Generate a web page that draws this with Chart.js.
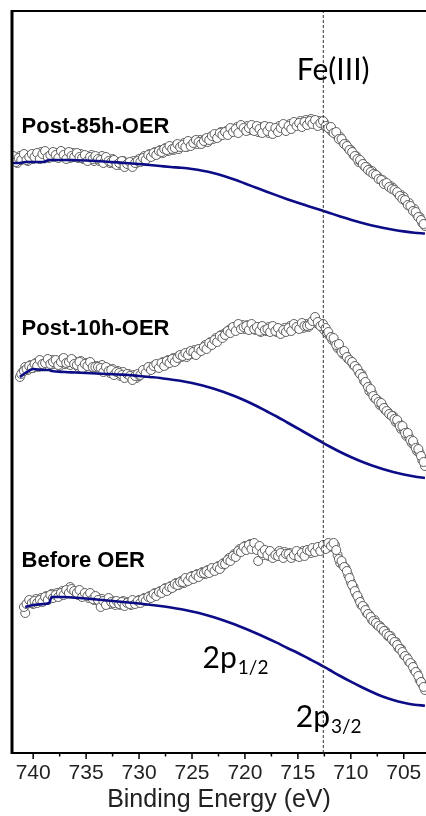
<!DOCTYPE html>
<html>
<head>
<meta charset="utf-8">
<script src="https://cdn.jsdelivr.net/npm/chart.js@4.4.1/dist/chart.umd.min.js"></script>
<style>
  html, body { margin: 0; padding: 0; background: #fff; overflow: hidden; }
  #wrap { width: 426px; height: 816px; position: relative; }
  canvas { display: block; }
</style>
</head>
<body>
<div id="wrap"><canvas id="xps"></canvas></div>
<script>
// binding energy of the measured points (eV), two interleaved sweeps
const energy = [
  742.00, 741.75, 741.50, 741.25, 741.00, 740.75, 740.50, 740.25,
  740.00, 739.75, 739.50, 739.25, 739.00, 738.75, 738.50, 738.25,
  738.00, 737.75, 737.50, 737.25, 737.00, 736.75, 736.50, 736.25,
  736.00, 735.75, 735.50, 735.25, 735.00, 734.75, 734.50, 734.25,
  734.00, 733.75, 733.50, 733.25, 733.00, 732.75, 732.50, 732.25,
  732.00, 731.75, 731.50, 731.25, 731.00, 730.75, 730.50, 730.25,
  730.00, 729.75, 729.50, 729.25, 729.00, 728.75, 728.50, 728.25,
  728.00, 727.75, 727.50, 727.25, 727.00, 726.75, 726.50, 726.25,
  726.00, 725.75, 725.50, 725.25, 725.00, 724.75, 724.50, 724.25,
  724.00, 723.75, 723.50, 723.25, 723.00, 722.75, 722.50, 722.25,
  722.00, 721.75, 721.50, 721.25, 721.00, 720.75, 720.50, 720.25,
  720.00, 719.75, 719.50, 719.25, 719.00, 718.75, 718.50, 718.25,
  718.00, 717.75, 717.50, 717.25, 717.00, 716.75, 716.50, 716.25,
  716.00, 715.75, 715.50, 715.25, 715.00, 714.75, 714.50, 714.25,
  714.00, 713.75, 713.50, 713.25, 713.00, 712.75, 712.50, 712.25,
  712.00, 711.75, 711.50, 711.25, 711.00, 710.75, 710.50, 710.25,
  710.00, 709.75, 709.50, 709.25, 709.00, 708.75, 708.50, 708.25,
  708.00, 707.75, 707.50, 707.25, 707.00, 706.75, 706.50, 706.25,
  706.00, 705.75, 705.50, 705.25, 705.00, 704.75, 704.50, 704.25,
  704.00, 703.75, 703.50, 703.25, 703.00
];
const energyB = [
  741.875, 741.625, 741.375, 741.125, 740.875, 740.625, 740.375, 740.125,
  739.875, 739.625, 739.375, 739.125, 738.875, 738.625, 738.375, 738.125,
  737.875, 737.625, 737.375, 737.125, 736.875, 736.625, 736.375, 736.125,
  735.875, 735.625, 735.375, 735.125, 734.875, 734.625, 734.375, 734.125,
  733.875, 733.625, 733.375, 733.125, 732.875, 732.625, 732.375, 732.125,
  731.875, 731.625, 731.375, 731.125, 730.875, 730.625, 730.375, 730.125,
  729.875, 729.625, 729.375, 729.125, 728.875, 728.625, 728.375, 728.125,
  727.875, 727.625, 727.375, 727.125, 726.875, 726.625, 726.375, 726.125,
  725.875, 725.625, 725.375, 725.125, 724.875, 724.625, 724.375, 724.125,
  723.875, 723.625, 723.375, 723.125, 722.875, 722.625, 722.375, 722.125,
  721.875, 721.625, 721.375, 721.125, 720.875, 720.625, 720.375, 720.125,
  719.875, 719.625, 719.375, 719.125, 718.875, 718.625, 718.375, 718.125,
  717.875, 717.625, 717.375, 717.125, 716.875, 716.625, 716.375, 716.125,
  715.875, 715.625, 715.375, 715.125, 714.875, 714.625, 714.375, 714.125,
  713.875, 713.625, 713.375, 713.125, 712.875, 712.625, 712.375, 712.125,
  711.875, 711.625, 711.375, 711.125, 710.875, 710.625, 710.375, 710.125,
  709.875, 709.625, 709.375, 709.125, 708.875, 708.625, 708.375, 708.125,
  707.875, 707.625, 707.375, 707.125, 706.875, 706.625, 706.375, 706.125,
  705.875, 705.625, 705.375, 705.125, 704.875, 704.625, 704.375, 704.125,
  703.875, 703.625, 703.375, 703.125
];

// intensities (a.u., spectra stacked with offsets)
const post85h = [
  592, 596, 590, 597, 594, 598, 592, 597,
  594, 599, 596, 601, 597, 600, 595, 599,
  596, 600, 597, 601, 596, 599, 595, 600,
  598, 595, 599, 594, 597, 593, 598, 592,
  596, 592, 597, 591, 594, 590, 594, 589,
  591, 588, 592, 587, 590, 588, 592, 590,
  594, 592, 597, 595, 599, 597, 601, 599,
  603, 600, 605, 602, 606, 603, 608, 604,
  607, 610, 606, 611, 608, 612, 609, 613,
  610, 614, 611, 616, 614, 618, 616, 621,
  619, 622, 620, 624, 622, 626, 623, 627,
  624, 627, 623, 626, 624, 621, 626, 622,
  625, 620, 624, 621, 623, 627, 624, 628,
  625, 629, 626, 630, 628, 632, 629, 633,
  630, 634, 631, 629, 632, 628, 630, 626,
  624, 621, 620, 617, 616, 611, 609, 605,
  603, 598, 597, 591, 591, 587, 586, 583,
  582, 579, 577, 574, 573, 570, 568, 567,
  565, 562, 559, 558, 556, 551, 550, 545,
  544, 538, 536, 530, 527
];
const post85hB = [
  597, 591, 595, 593, 599, 593, 596, 599,
  596, 600, 594, 599, 602, 596, 598, 601,
  598, 595, 602, 598, 594, 601, 597, 596,
  600, 596, 595, 598, 592, 596, 594, 597,
  594, 593, 590, 596, 592, 591, 593, 588,
  590, 592, 586, 589, 591, 586, 590, 592,
  591, 595, 593, 598, 596, 600, 598, 602,
  601, 604, 603, 607, 604, 605, 609, 606,
  608, 606, 612, 607, 610, 613, 611, 609,
  612, 615, 613, 617, 619, 615, 620, 618,
  621, 618, 625, 621, 624, 620, 628, 625,
  622, 625, 628, 622, 627, 624, 620, 627,
  622, 626, 619, 625, 621, 625, 629, 622,
  627, 624, 631, 627, 630, 626, 631, 628,
  632, 629, 633, 627, 630, 632, 627, 625,
  626, 620, 621, 614, 614, 609, 607, 603,
  601, 597, 594, 593, 589, 586, 583, 581,
  579, 578, 574, 573, 569, 570, 566, 564,
  563, 561, 557, 554, 553, 548, 547, 542,
  541, 536, 533, 529
];

const post10h = [
  null, null, null, 376, 381, 386, 383, 388,
  385, 390, 386, 391, 388, 392, 387, 393,
  389, 392, 387, 394, 389, 392, 388, 393,
  390, 386, 392, 387, 390, 385, 389, 384,
  387, 383, 388, 382, 385, 380, 384, 379,
  382, 377, 381, 376, 379, 375, 378, 375,
  377, 380, 382, 384, 386, 384, 388, 386,
  389, 391, 388, 393, 392, 395, 392, 397,
  396, 399, 396, 401, 399, 403, 400, 404,
  404, 408, 406, 411, 410, 415, 414, 418,
  419, 421, 423, 425, 424, 427, 425, 428,
  424, 428, 425, 427, 423, 426, 421, 425,
  422, 426, 423, 426, 421, 424, 420, 425,
  423, 427, 424, 428, 425, 428, 425, 429,
  426, 430, 433, 430, 428, 426, 423, 420,
  417, 413, 411, 405, 404, 399, 398, 394,
  392, 388, 386, 381, 379, 372, 369, 362,
  360, 355, 353, 348, 347, 343, 341, 338,
  337, 331, 330, 324, 323, 317, 316, 310,
  308, 302, 300, 293, 287
];
const post10hB = [
  null, null, null, 379, 382, 384, 387, 385,
  389, 387, 393, 389, 390, 394, 389, 391,
  393, 388, 391, 395, 390, 391, 394, 389,
  388, 391, 385, 389, 387, 391, 386, 386,
  386, 385, 381, 386, 382, 383, 378, 381,
  380, 378, 375, 379, 377, 373, 377, 379,
  378, 383, 380, 386, 383, 387, 389, 385,
  390, 387, 392, 390, 394, 391, 395, 398,
  397, 400, 398, 402, 401, 398, 404, 402,
  406, 404, 410, 408, 413, 411, 417, 415,
  418, 422, 420, 426, 422, 429, 424, 426,
  427, 423, 429, 424, 426, 422, 427, 423,
  424, 421, 427, 422, 425, 419, 423, 421,
  425, 422, 429, 426, 424, 430, 427, 427,
  428, 432, 436, 431, 427, 429, 425, 421,
  416, 415, 408, 409, 401, 402, 396, 393,
  391, 387, 384, 379, 376, 371, 366, 364,
  357, 354, 351, 350, 345, 342, 339, 337,
  334, 333, 327, 327, 320, 320, 313, 312,
  305, 304, 297, 291
];

const beforeOER = [
  null, null, null, null, null, 140, 150, 152,
  149, 154, 151, 155, 152, 157, 154, 159,
  156, 160, 157, 162, 159, 163, 166, 160,
  162, 158, 161, 157, 159, 155, 158, 153,
  156, 151, 154, 150, 153, 149, 152, 148,
  151, 148, 152, 149, 151, 148, 152, 150,
  153, 151, 155, 154, 157, 156, 160, 159,
  162, 161, 165, 163, 167, 166, 170, 168,
  172, 170, 174, 173, 177, 175, 179, 178,
  181, 179, 183, 181, 184, 183, 187, 186,
  190, 191, 195, 194, 199, 200, 204, 203,
  207, 205, 209, 206, 207, 192, 205, 198,
  201, 197, 200, 196, 199, 202, 198, 201,
  197, 200, 196, 199, 201, 198, 202, 199,
  203, 200, 204, 202, 205, 203, 207, 205,
  209, 206, 208, 198, 190, 188, 185, 178,
  171, 166, 159, 154, 148, 146, 140, 138,
  133, 133, 128, 127, 123, 122, 117, 117,
  112, 111, 105, 104, 98, 96, 91, 89,
  83, 80, 73, 69, 63
];
const beforeOERB = [
  null, null, null, null, 146, 149, 153, 150,
  152, 150, 153, 151, 156, 153, 158, 155,
  158, 156, 160, 158, 163, 160, 164, 162,
  160, 163, 156, 160, 157, 160, 154, 157,
  153, 146, 152, 148, 155, 151, 150, 152,
  149, 151, 147, 150, 149, 153, 149, 152,
  150, 154, 152, 156, 155, 159, 157, 161,
  160, 164, 162, 166, 165, 169, 168, 171,
  171, 175, 172, 176, 174, 178, 176, 180,
  180, 182, 180, 185, 182, 186, 184, 189,
  189, 193, 192, 197, 196, 202, 201, 206,
  203, 208, 204, 210, 203, 207, 200, 203,
  198, 202, 195, 198, 197, 200, 195, 199,
  199, 195, 198, 202, 196, 200, 197, 203,
  202, 205, 201, 206, 202, 208, 204, 210,
  207, 210, 203, 194, 192, 186, 182, 175,
  168, 162, 157, 151, 147, 143, 139, 136,
  132, 130, 127, 125, 122, 119, 117, 114,
  111, 108, 104, 101, 97, 94, 90, 86,
  81, 77, 71, 66
];

// Shirley-type backgrounds
const bgEnergy = [742, 741.25, 740.75, 740, 739, 738.5, 738.25,
  737, 736, 735, 734, 733, 732, 731, 730, 729, 728, 727, 726, 725, 724,
  723, 722, 721, 720, 719, 718, 717, 716, 715, 714, 713, 712, 711, 710,
  709, 708, 707, 706, 705, 704, 703];
const bg85h = [590, 590, 591, 591, 591, 593, 593,
  593, 592.8, 592.5, 592, 591.3, 590.6, 589.8, 589, 588, 587, 586, 585.2, 584, 582.3,
  580, 577, 573.5, 569.5, 565.5, 561.5, 557.6, 553.8, 550.2, 546.8, 543.4, 540, 536.6, 533.3,
  530.3, 527.6, 525.3, 523.3, 521.6, 520.3, 519.5];
const bg10h = [null, 376, 380, 384, 383, 383, 382,
  381, 380.5, 380, 379.5, 379, 378.5, 378, 377, 376, 375, 373.5, 372, 370, 367.5,
  364.5, 361, 357, 352.5, 347.5, 342, 336.5, 330.5, 324.5, 318.5, 312.5, 306.5, 301, 296,
  291.5, 287.5, 284, 281, 278.5, 276.5, 275];
const bgBefore = [null, null, 146, 148, 149, 150, 156,
  156, 155.3, 154.5, 153.5, 152.5, 151.5, 150.5, 149.5, 148.3, 147, 145.5, 143.7, 141.5, 139,
  136, 132.5, 128.7, 124.5, 120, 115.3, 110.3, 105, 100, 94.5, 89, 83, 77, 71.3,
  66, 61, 56.5, 53, 50.3, 48.3, 47.3];

const feIII = 712.6;
const majorTicks = [740, 735, 730, 725, 720, 715, 710, 705];
const minorTicks = [737.5, 732.5, 727.5, 722.5, 717.5, 712.5, 707.5];

const pts = (xs, ys) => xs.map((e, i) => ({ x: e, y: ys[i] }));

const notes = [
  { text: 'Post-85h-OER', e: 741.1, v: 620, font: 'bold 22px "Liberation Sans", Arial' },
  { text: 'Post-10h-OER', e: 741.1, v: 418, font: 'bold 22px "Liberation Sans", Arial' },
  { text: 'Before OER', e: 741.1, v: 186, font: 'bold 22px "Liberation Sans", Arial' },
  { text: 'Fe(III)', e: 715.1, v: 673, font: '30px Lato' },
  { text: '2p', sub: '1/2', e: 724.0, v: 85, font: '30px Lato', subFont: '19px Lato' },
  { text: '2p', sub: '3/2', e: 715.2, v: 26, font: '30px Lato', subFont: '19px Lato' }
];

const decor = {
  id: 'decor',
  afterDraw(chart) {
    const { ctx, chartArea: a, scales: { x, y } } = chart;
    ctx.save();
    ctx.strokeStyle = '#000';
    // top + left frame
    ctx.lineWidth = 2;
    ctx.beginPath(); ctx.moveTo(a.left, a.top); ctx.lineTo(a.right, a.top); ctx.stroke();
    ctx.lineWidth = 3;
    ctx.beginPath(); ctx.moveTo(a.left, a.top - 1); ctx.lineTo(a.left, a.bottom + 1); ctx.stroke();
    // outward ticks
    ctx.lineWidth = 1.5;
    majorTicks.forEach(t => {
      const px = x.getPixelForValue(t);
      ctx.beginPath(); ctx.moveTo(px, a.bottom); ctx.lineTo(px, a.bottom + 6); ctx.stroke();
    });
    minorTicks.forEach(t => {
      const px = x.getPixelForValue(t);
      ctx.beginPath(); ctx.moveTo(px, a.bottom); ctx.lineTo(px, a.bottom + 3.5); ctx.stroke();
    });
    // text notes
    ctx.fillStyle = '#000';
    ctx.textBaseline = 'alphabetic';
    ctx.textAlign = 'left';
    notes.forEach(n => {
      const px = x.getPixelForValue(n.e), py = y.getPixelForValue(n.v);
      ctx.font = n.font;
      ctx.fillText(n.text, px, py);
      if (n.sub) {
        const w = ctx.measureText(n.text).width;
        ctx.font = n.subFont;
        ctx.fillText(n.sub, px + w + 1, py + 6);
      }
    });
    ctx.restore();
  }
};

const scatterStyle = {
  showLine: false,
  pointRadius: 4.5,
  pointBorderWidth: 1,
  pointBorderColor: '#5e5e5e',
  pointBackgroundColor: '#ffffff',
  pointHoverRadius: 4.5,
  order: 2
};
const bgStyle = {
  showLine: true,
  borderColor: '#0c0c86',
  borderWidth: 2.6,
  pointRadius: 0,
  cubicInterpolationMode: 'monotone',
  fill: false,
  order: 1
};

new Chart(document.getElementById('xps'), {
  type: 'scatter',
  data: {
    datasets: [
      { label: 'Fe(III)', data: [{ x: feIII, y: 0 }, { x: feIII, y: 742 }], showLine: true,
        borderColor: '#333', borderWidth: 1, borderDash: [3, 2], pointRadius: 0, order: 0 },
      { label: 'bg 85h', data: pts(bgEnergy, bg85h), ...bgStyle },
      { label: 'bg 10h', data: pts(bgEnergy, bg10h), ...bgStyle },
      { label: 'bg before', data: pts(bgEnergy, bgBefore), ...bgStyle },
      { label: 'Post-85h-OER', data: pts(energy, post85h).concat(pts(energyB, post85hB)), ...scatterStyle },
      { label: 'Post-10h-OER', data: pts(energy, post10h).concat(pts(energyB, post10hB)), ...scatterStyle },
      { label: 'Before OER', data: pts(energy, beforeOER).concat(pts(energyB, beforeOERB)), ...scatterStyle }
    ]
  },
  options: {
    responsive: true,
    maintainAspectRatio: false,
    animation: false,
    layout: { autoPadding: false, padding: { left: 12, top: 11, right: 0, bottom: 0 } },
    plugins: { legend: { display: false }, tooltip: { enabled: false } },
    scales: {
      x: {
        type: 'linear',
        reverse: true,
        min: 702.9,
        max: 742,
        afterBuildTicks: s => { s.ticks = majorTicks.map(v => ({ value: v })); },
        afterFit: s => { s.height = 63; s.paddingLeft = 0; s.paddingRight = 0; },
        grid: { display: false, drawTicks: false },
        border: { display: true, color: '#000', width: 2 },
        ticks: {
          padding: 8,
          maxRotation: 0,
          color: '#222',
          font: { family: '"Liberation Sans", Arial', size: 21 }
        },
        title: {
          display: true,
          text: 'Binding Energy (eV)',
          color: '#222',
          padding: { top: 0, bottom: 1 },
          font: { family: '"Liberation Sans", Arial', size: 25 }
        }
      },
      y: {
        display: false,
        min: 0,
        max: 742
      }
    }
  },
  plugins: [decor]
});
</script>
</body>
</html>
